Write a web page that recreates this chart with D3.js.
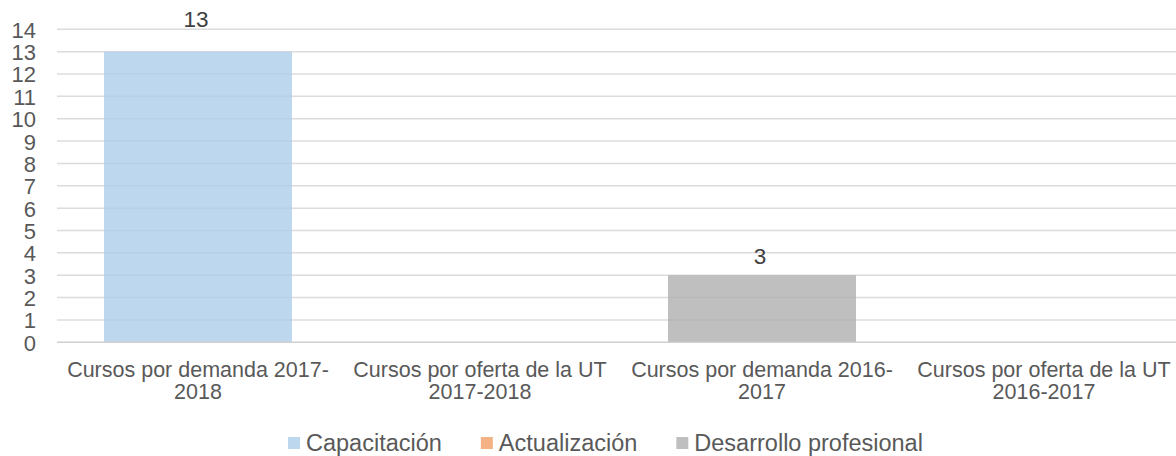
<!DOCTYPE html>
<html>
<head>
<meta charset="utf-8">
<script src="https://cdn.jsdelivr.net/npm/d3@7"></script>
<style>
  html, body { margin: 0; padding: 0; background: #fff; }
  svg { display: block; font-family: "Liberation Sans", Arial, sans-serif; }
</style>
</head>
<body>
<svg id="chart" width="1176" height="456"></svg>
<script>
// Course categories (two lines each)
const categories = [
  ["Cursos por demanda 2017-", "2018"],
  ["Cursos por oferta de la UT", "2017-2018"],
  ["Cursos por demanda 2016-", "2017"],
  ["Cursos por oferta de la UT", "2016-2017"]
];
const seriesNames = ["Capacitación", "Actualización", "Desarrollo profesional"];
const capacitacion = [13, 0, 0, 0];
const actualizacion = [0, 0, 0, 0];
const desarrollo = [0, 0, 3, 0];
const yTicks = [0, 1, 2, 3, 4, 5, 6, 7, 8, 9, 10, 11, 12, 13, 14];

const colors = ["#BDD7EE", "#F4B183", "#BFBFBF"];

const svg = d3.select("#chart");
const plotLeft = 57, plotRight = 1185, plotTop = 29.3, plotBottom = 342.3;

const rows = categories.map((c, i) => ({
  key: i,
  "Capacitación": capacitacion[i],
  "Actualización": actualizacion[i],
  "Desarrollo profesional": desarrollo[i]
}));

const x = d3.scaleBand()
  .domain(categories.map((c, i) => i))
  .range([plotLeft, plotRight])
  .paddingInner(1 / 3)
  .paddingOuter(1 / 6);

const y = d3.scaleLinear().domain([0, 14]).range([plotBottom, plotTop]);

// Horizontal gridlines
svg.append("g")
  .selectAll("line")
  .data(yTicks.filter(t => t > 0))
  .join("line")
  .attr("x1", plotLeft).attr("x2", plotRight)
  .attr("y1", d => y(d)).attr("y2", d => y(d))
  .attr("stroke", "#e4e4e4")
  .attr("stroke-width", 1.5);

// Stacked columns
const stacked = d3.stack().keys(seriesNames)(rows);
svg.append("g")
  .selectAll("g")
  .data(stacked)
  .join("g")
  .attr("fill", (d, i) => colors[i])
  .selectAll("rect")
  .data(d => d.filter(s => s[1] - s[0] > 0))
  .join("rect")
  .attr("x", d => x(d.data.key))
  .attr("width", x.bandwidth())
  .attr("y", d => y(d[1]))
  .attr("height", d => y(d[0]) - y(d[1]));

// Gridlines faintly visible through the columns
svg.append("g")
  .selectAll("line")
  .data(yTicks.filter(t => t > 0))
  .join("line")
  .attr("x1", plotLeft).attr("x2", plotRight)
  .attr("y1", d => y(d)).attr("y2", d => y(d))
  .attr("stroke", "#000")
  .attr("stroke-opacity", 0.03)
  .attr("stroke-width", 1.5);

// Baseline
svg.append("line")
  .attr("x1", plotLeft).attr("x2", plotRight)
  .attr("y1", y(0)).attr("y2", y(0))
  .attr("stroke", "#d0d0d0")
  .attr("stroke-width", 1.5);

// Y axis labels
const yAxis = d3.axisLeft(y).tickValues(yTicks).tickSize(0).tickPadding(0);
const gy = svg.append("g").attr("transform", "translate(36,0)").call(yAxis);
gy.select(".domain").remove();
gy.selectAll("text")
  .attr("fill", "#595959")
  .attr("font-size", 22)
  .attr("font-family", "Liberation Sans, Arial, sans-serif")
  .attr("dy", "0.36em");

// Category labels
const gx = svg.append("g");
categories.forEach((lines, i) => {
  const cx = x(i) + x.bandwidth() / 2;
  const t = gx.append("text")
    .attr("x", cx)
    .attr("y", 377)
    .attr("text-anchor", "middle")
    .attr("fill", "#595959")
    .attr("font-size", 21.5);
  lines.forEach((ln, j) => {
    t.append("tspan")
      .attr("x", cx)
      .attr("dy", j === 0 ? 0 : 21.5)
      .text(ln);
  });
});

// Value labels
const labelLift = [24.5, 11];
const labelled = [];
stacked.forEach(s => s.forEach(d => {
  if (d[1] - d[0] > 0) labelled.push(d);
}));
svg.append("g")
  .selectAll("text")
  .data(labelled)
  .join("text")
  .attr("x", d => x(d.data.key) + x.bandwidth() / 2 - 2)
  .attr("y", (d, i) => y(d[1]) - labelLift[i])
  .attr("text-anchor", "middle")
  .attr("fill", "#404040")
  .attr("font-size", 22.5)
  .text(d => d[1] - d[0]);

// Legend, laid out left to right from measured label widths
const lg = svg.append("g");
let lx = 288;
seriesNames.forEach((name, i) => {
  lg.append("rect")
    .attr("x", lx).attr("y", 437)
    .attr("width", 12).attr("height", 12)
    .attr("fill", colors[i]);
  const txt = lg.append("text")
    .attr("x", lx + 18)
    .attr("y", 450.5)
    .attr("fill", "#595959")
    .attr("font-size", 23.5)
    .text(name);
  lx += 18 + txt.node().getComputedTextLength() + 39;
});
</script>
</body>
</html>
